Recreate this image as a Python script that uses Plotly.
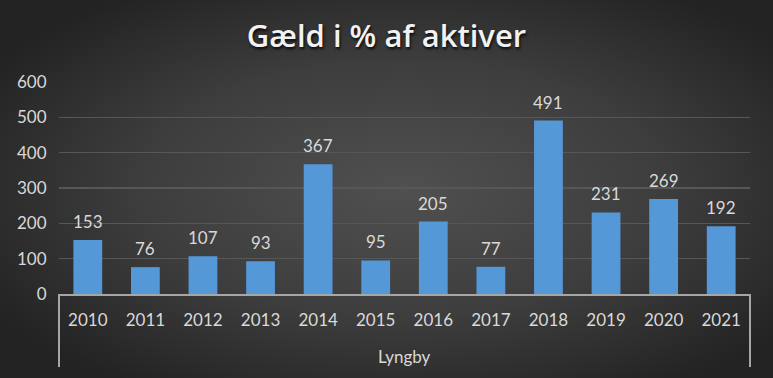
import base64
import plotly.graph_objects as go

years = ["2010", "2011", "2012", "2013", "2014", "2015", "2016", "2017", "2018", "2019", "2020", "2021"]
group_label = "Lyngby"
values = [153, 76, 107, 93, 367, 95, 205, 77, 491, 231, 269, 192]
y_ticks = [0, 100, 200, 300, 400, 500, 600]
title_text = "Gæld i % af aktiver"

W, H = 773, 378
L, R, T, B = 59, 23, 82, 84
pw, ph = W - L - R, H - T - B

svg = (
    '<svg xmlns="http://www.w3.org/2000/svg" width="773" height="378" preserveAspectRatio="none">'
    '<defs><radialGradient id="g" cx="0.52" cy="0.5" r="0.62">'
    '<stop offset="0" stop-color="#505050"/><stop offset="0.55" stop-color="#3d3d3d"/>'
    '<stop offset="1" stop-color="#232323"/></radialGradient></defs>'
    '<rect width="773" height="378" fill="url(#g)"/></svg>'
)
src = "data:image/svg+xml;base64," + base64.b64encode(svg.encode()).decode()

FONT = "Lato, 'Open Sans', sans-serif"
TFONT = "'Open Sans', Lato, sans-serif"
TXT = "#D9D9D9"
AXC = "#A6A6A6"

fig = go.Figure(
    go.Bar(
        x=years,
        y=values,
        cliponaxis=False,
        marker=dict(color="#5598D8", line=dict(width=0)),
        hoverinfo="skip",
    )
)

# category axes place annotations by category index
value_labels = [
    dict(
        x=i, y=v, xref="x", yref="y",
        text=str(v),
        showarrow=False,
        yanchor="bottom",
        yshift=6,
        font=dict(family=FONT, size=17, color=TXT),
    )
    for i, v in enumerate(values)
]

fig.update_layout(
    width=W,
    height=H,
    margin=dict(l=L, r=R, t=T, b=B, autoexpand=False),
    paper_bgcolor="#333333",
    plot_bgcolor="rgba(0,0,0,0)",
    bargap=0.5,
    showlegend=False,
    title=dict(
        text=title_text,
        x=0.5,
        xref="container",
        xanchor="center",
        y=1 - 36 / H,
        yanchor="middle",
        automargin=False,
        font=dict(family=TFONT, size=31, weight=600, color="#F2F2F2",
                  shadow="1px 2px 3px rgba(0,0,0,0.85)"),
    ),
    font=dict(family=FONT, size=17, color=TXT),
    images=[
        dict(
            source=src,
            xref="paper",
            yref="paper",
            x=-L / pw,
            y=1 + T / ph,
            sizex=W / pw,
            sizey=H / ph,
            xanchor="left",
            yanchor="top",
            sizing="stretch",
            layer="below",
        )
    ],
    annotations=value_labels + [
        dict(
            text=group_label,
            xref="paper",
            yref="paper",
            x=0.5,
            y=-(356 - (H - B)) / ph,
            xanchor="center",
            yanchor="middle",
            showarrow=False,
            font=dict(family=FONT, size=17, color=TXT),
        )
    ],
    shapes=[
        dict(type="line", xref="paper", yref="paper", x0=0, x1=0, y0=0, y1=-(367 - (H - B)) / ph,
             line=dict(color=AXC, width=2)),
        dict(type="line", xref="paper", yref="paper", x0=1, x1=1, y0=0, y1=-(367 - (H - B)) / ph,
             line=dict(color=AXC, width=2)),
    ],
)

fig.update_yaxes(
    range=[0, 600],
    tickvals=y_ticks,
    showgrid=True,
    gridcolor="#575757",
    gridwidth=1.5,
    zeroline=False,
    showline=False,
    ticks="outside",
    ticklen=8,
    tickcolor="rgba(0,0,0,0)",
    automargin=False,
    tickfont=dict(family=FONT, size=17, color=TXT),
)

fig.update_xaxes(
    type="category",
    categoryarray=years,
    range=[-0.5, len(years) - 0.5],
    showline=True,
    linecolor=AXC,
    linewidth=2,
    showgrid=False,
    ticks="outside",
    ticklen=10,
    tickcolor="rgba(0,0,0,0)",
    automargin=False,
    tickfont=dict(family=FONT, size=17, color=TXT),
)

fig.write_html(
    "out.html",
    config={"displayModeBar": False, "staticPlot": True},
    post_script="document.body.style.margin='0';document.body.style.background='#262626';",
)
